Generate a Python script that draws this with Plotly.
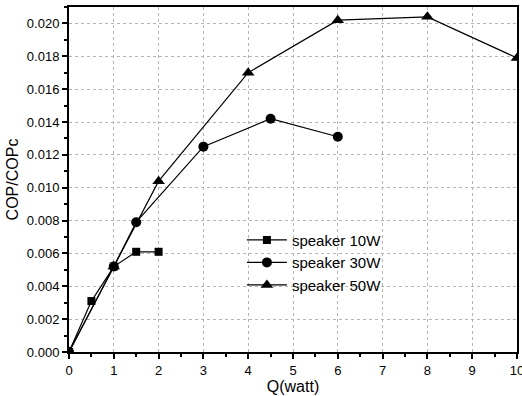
import plotly.graph_objects as go

x10 = [0, 0.5, 1, 1.5, 2]
y10 = [0.0, 0.0031, 0.0052, 0.0061, 0.0061]

x30 = [0, 1, 1.5, 3, 4.5, 6]
y30 = [0.0, 0.0052, 0.0079, 0.0125, 0.0142, 0.0131]

x50 = [0, 1, 2, 4, 6, 8, 10]
y50 = [0.0, 0.0052, 0.0104, 0.0170, 0.0202, 0.0204, 0.0179]

names = ["speaker 10W", "speaker 30W", "speaker 50W"]

fig = go.Figure()
fig.add_trace(go.Scatter(x=x10, y=y10, name=names[0], mode="lines+markers",
                         line=dict(color="black", width=1.2),
                         marker=dict(symbol="square", size=8, color="black")))
fig.add_trace(go.Scatter(x=x30, y=y30, name=names[1], mode="lines+markers",
                         line=dict(color="black", width=1.2),
                         marker=dict(symbol="circle", size=10, color="black")))
fig.add_trace(go.Scatter(x=x50, y=y50, name=names[2], mode="lines+markers",
                         line=dict(color="black", width=1.2),
                         marker=dict(symbol="triangle-up", size=11, color="black")))

font = "Liberation Sans, Arial, sans-serif"
fig.update_layout(
    width=522, height=396,
    margin=dict(l=69, r=5, t=7, b=44, autoexpand=False),
    paper_bgcolor="white", plot_bgcolor="white",
    font=dict(family=font, color="black", size=13),
    showlegend=True,
    legend=dict(x=0.386, y=0.372, xanchor="left", yanchor="top",
                bgcolor="rgba(0,0,0,0)", font=dict(size=15),
                itemwidth=40, tracegroupgap=0),
    xaxis=dict(range=[0, 10], dtick=1, tick0=0,
               showline=True, linecolor="black", linewidth=2, mirror=True,
               ticks="outside", ticklen=5, tickwidth=1.5, tickcolor="black",
               minor=dict(dtick=0.5, ticks="outside", ticklen=3, tickcolor="black", showgrid=False),
               showgrid=True, gridcolor="#b5b5b5", griddash="dot", gridwidth=1,
               zeroline=False, automargin=False, ticklabeloverflow="allow",
               title=dict(text="Q(watt)", font=dict(size=16), standoff=2),
               tickfont=dict(size=13)),
    yaxis=dict(range=[0, 0.021], dtick=0.002, tick0=0, tickformat=".3f",
               showline=True, linecolor="black", linewidth=2, mirror=True,
               ticks="outside", ticklen=5, tickwidth=1.5, tickcolor="black",
               minor=dict(dtick=0.001, ticks="outside", ticklen=3, tickcolor="black", showgrid=False),
               showgrid=True, gridcolor="#b5b5b5", griddash="dot", gridwidth=1,
               zeroline=False, automargin=False, ticklabeloverflow="allow",
               title=dict(text="COP/COPc", font=dict(size=16), standoff=4),
               tickfont=dict(size=13)),
)

fig.write_html("out.html", config={"displayModeBar": False},
               post_script="document.body.style.margin='0px';")
